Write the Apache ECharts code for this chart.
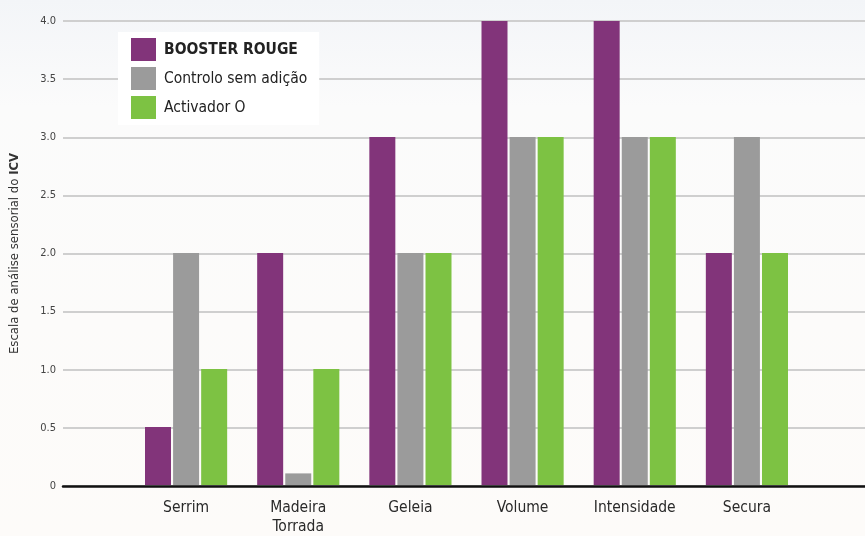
<!DOCTYPE html>
<html><head><meta charset="utf-8">
<script src="https://cdn.jsdelivr.net/npm/echarts@6/dist/echarts.min.js"></script>
<style>html,body{margin:0;padding:0;}#c{width:865px;height:536px;}</style>
</head><body><div id="c"></div>
<script>
const categories = ['Serrim', 'Madeira\nTorrada', 'Geleia', 'Volume', 'Intensidade', 'Secura'];
const seriesNames = ['BOOSTER ROUGE', 'Controlo sem adição', 'Activador O'];
const boosterRouge = [0.5, 2, 3, 4, 4, 2];
const controlo = [2, 0.1, 2, 3, 3, 3];
const activador = [1, 1, 2, 3, 3, 2];
const yTicks = ['0', '0.5', '1.0', '1.5', '2.0', '2.5', '3.0', '3.5', '4.0'];
const colors = ['#82347a', '#9b9b9b', '#7dc243'];
const FONT = '"DejaVu Sans Condensed","Liberation Sans Narrow","Roboto",sans-serif';

const chart = echarts.init(document.getElementById('c'));
chart.setOption({
  backgroundColor: {
    type: 'linear', x: 0, y: 0, x2: 0, y2: 1,
    colorStops: [{offset: 0, color: '#f3f5f8'}, {offset: 0.2, color: '#fbfbfb'}, {offset: 1, color: '#fdfbf9'}]
  },
  animation: false,
  textStyle: {fontFamily: FONT},
  legend: {
    orient: 'vertical', left: 118, top: 32,
    backgroundColor: '#ffffff', padding: [6, 12, 6, 13],
    itemWidth: 25, itemHeight: 23, itemGap: 6,
    icon: 'rect',
    data: seriesNames,
    formatter: n => n === seriesNames[0] ? '{b|' + n + '}' : n,
    textStyle: {fontFamily: FONT, fontSize: 15.5, color: '#222', padding: [0, 0, 0, 3],
      rich: {b: {fontFamily: FONT, fontSize: 15.5, fontWeight: 'bold', color: '#222'}}}
  },
  grid: [
    {left: 63, right: 0, top: 21, bottom: 50},
    {left: 130, right: 62, top: 21, bottom: 50}
  ],
  xAxis: [
    {gridIndex: 0, type: 'value', min: 0, max: 1, axisLabel: {show: false}, axisTick: {show: false},
      splitLine: {show: false}, axisLine: {show: true, onZero: false, lineStyle: {color: '#111', width: 2.5}}},
    {gridIndex: 1, type: 'category', data: categories, axisLine: {show: false}, axisTick: {show: false},
      axisLabel: {interval: 0, fontFamily: FONT, fontSize: 15.5, color: '#2a2a2a', margin: 13, lineHeight: 19}}
  ],
  yAxis: [
    {gridIndex: 0, type: 'value', min: 0, max: 4, interval: 0.5,
      axisLine: {show: false}, axisTick: {show: false},
      axisLabel: {fontFamily: FONT, fontSize: 11, color: '#444', margin: 7,
        formatter: (v) => yTicks[Math.round(v / 0.5)]},
      splitLine: {lineStyle: {color: '#cfcfcf', width: 2}},
      name: 'Escala de análise sensorial do {b|ICV}', nameLocation: 'middle', nameGap: 42,
      nameTextStyle: {fontFamily: FONT, fontSize: 13, color: '#333',
        rich: {b: {fontFamily: FONT, fontSize: 13, fontWeight: 'bold', color: '#333'}}}},
    {gridIndex: 1, type: 'value', min: 0, max: 4, show: false}
  ],
  series: [
    {name: seriesNames[0], type: 'bar', xAxisIndex: 1, yAxisIndex: 1, data: boosterRouge, barWidth: 26, barGap: '8%', itemStyle: {color: colors[0]}},
    {name: seriesNames[1], type: 'bar', xAxisIndex: 1, yAxisIndex: 1, data: controlo, barWidth: 26, barGap: '8%', itemStyle: {color: colors[1]}},
    {name: seriesNames[2], type: 'bar', xAxisIndex: 1, yAxisIndex: 1, data: activador, barWidth: 26, barGap: '8%', itemStyle: {color: colors[2]}}
  ]
});
</script>
</body></html>
